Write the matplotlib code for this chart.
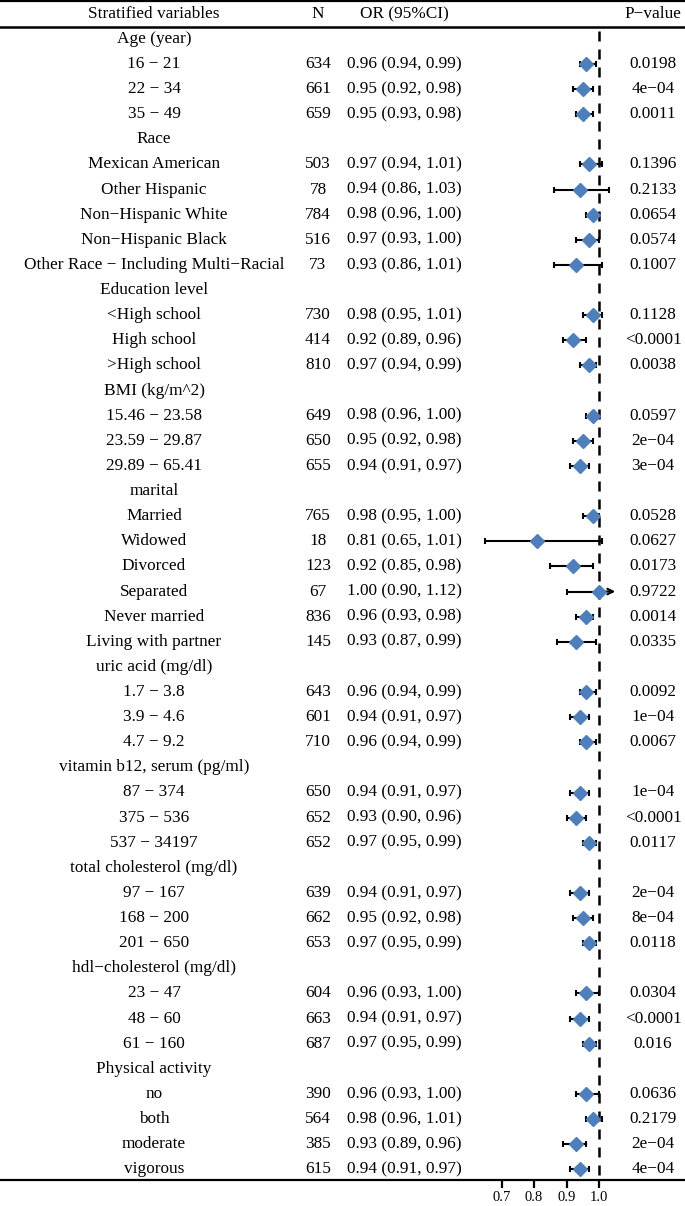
import numpy as np
import matplotlib.pyplot as plt
from matplotlib.transforms import blended_transform_factory

plt.rcParams['font.family'] = ['Liberation Serif', 'DejaVu Serif']

# rows of the table; group headers have None for the numbers
labels = ["Age (year)", "16 − 21", "22 − 34", "35 − 49",
          "Race", "Mexican American", "Other Hispanic", "Non−Hispanic White",
          "Non−Hispanic Black", "Other Race − Including Multi−Racial",
          "Education level", "<High school", "High school", ">High school",
          "BMI (kg/m^2)", "15.46 − 23.58", "23.59 − 29.87", "29.89 − 65.41",
          "marital", "Married", "Widowed", "Divorced", "Separated",
          "Never married", "Living with partner",
          "uric acid (mg/dl)", "1.7 − 3.8", "3.9 − 4.6", "4.7 − 9.2",
          "vitamin b12, serum (pg/ml)", "87 − 374", "375 − 536", "537 − 34197",
          "total cholesterol (mg/dl)", "97 − 167", "168 − 200", "201 − 650",
          "hdl−cholesterol (mg/dl)", "23 − 47", "48 − 60", "61 − 160",
          "Physical activity", "no", "both", "moderate", "vigorous"]
n = [None, 634, 661, 659,
     None, 503, 78, 784, 516, 73,
     None, 730, 414, 810,
     None, 649, 650, 655,
     None, 765, 18, 123, 67, 836, 145,
     None, 643, 601, 710,
     None, 650, 652, 652,
     None, 639, 662, 653,
     None, 604, 663, 687,
     None, 390, 564, 385, 615]
odds = [None, 0.96, 0.95, 0.95,
        None, 0.97, 0.94, 0.98, 0.97, 0.93,
        None, 0.98, 0.92, 0.97,
        None, 0.98, 0.95, 0.94,
        None, 0.98, 0.81, 0.92, 1.00, 0.96, 0.93,
        None, 0.96, 0.94, 0.96,
        None, 0.94, 0.93, 0.97,
        None, 0.94, 0.95, 0.97,
        None, 0.96, 0.94, 0.97,
        None, 0.96, 0.98, 0.93, 0.94]
lower = [None, 0.94, 0.92, 0.93,
         None, 0.94, 0.86, 0.96, 0.93, 0.86,
         None, 0.95, 0.89, 0.94,
         None, 0.96, 0.92, 0.91,
         None, 0.95, 0.65, 0.85, 0.90, 0.93, 0.87,
         None, 0.94, 0.91, 0.94,
         None, 0.91, 0.90, 0.95,
         None, 0.91, 0.92, 0.95,
         None, 0.93, 0.91, 0.95,
         None, 0.93, 0.96, 0.89, 0.91]
upper = [None, 0.99, 0.98, 0.98,
         None, 1.01, 1.03, 1.00, 1.00, 1.01,
         None, 1.01, 0.96, 0.99,
         None, 1.00, 0.98, 0.97,
         None, 1.00, 1.01, 0.98, 1.12, 0.98, 0.99,
         None, 0.99, 0.97, 0.99,
         None, 0.97, 0.96, 0.99,
         None, 0.97, 0.98, 0.99,
         None, 1.00, 0.97, 0.99,
         None, 1.00, 1.01, 0.96, 0.97]
pvals = [None, "0.0198", "4e−04", "0.0011",
         None, "0.1396", "0.2133", "0.0654", "0.0574", "0.1007",
         None, "0.1128", "<0.0001", "0.0038",
         None, "0.0597", "2e−04", "3e−04",
         None, "0.0528", "0.0627", "0.0173", "0.9722", "0.0014", "0.0335",
         None, "0.0092", "1e−04", "0.0067",
         None, "1e−04", "<0.0001", "0.0117",
         None, "2e−04", "8e−04", "0.0118",
         None, "0.0304", "<0.0001", "0.016",
         None, "0.0636", "0.2179", "2e−04", "4e−04"]
xticks = [0.7, 0.8, 0.9, 1.0]
clip_hi = 1.05

W, H = 685, 1206
fig = plt.figure(figsize=(W / 100, H / 100), dpi=100)
top_px, bottom_px = 1, 1180
ax = fig.add_axes([0, (H - bottom_px) / H, 1, (bottom_px - top_px) / H])

# x: 1.0 at pixel 599, 0.1 per 32.5 px
scale = 325.0
ax.set_xlim(1 - 599 / scale, 1 + (W - 599) / scale)
row0, step = 38.9, 25.12
ax.set_ylim((bottom_px - row0) / step, (top_px - row0) / step)

def row_of(px):
    return (px - row0) / step

for s in ['left', 'right']:
    ax.spines[s].set_visible(False)
ax.spines['top'].set_linewidth(1.6)
ax.spines['bottom'].set_linewidth(1.6)
ax.set_yticks([])
ax.set_xticks(xticks)
ax.set_xticklabels([f"{t:.1f}" for t in xticks], fontsize=10.5)
ax.tick_params(axis='x', direction='out', length=6, width=1.6, pad=2)

tr = blended_transform_factory(ax.transAxes, ax.transData)
col_lab, col_n, col_or, col_p = 154 / W, 318 / W, 404 / W, 653 / W
fs = 12.4

for x, t in [(col_lab, "Stratified variables"), (col_n, "N"),
             (col_or, "OR (95%CI)"), (col_p, "P−value")]:
    ax.text(x, row_of(14.5), t, transform=tr, ha='center', va='center', fontsize=fs)
ax.axhline(row_of(27), color='black', lw=1.8)

ax.vlines(1.0, row_of(31), row_of(bottom_px), colors='black',
          linestyles=(0, (4, 3.2)), lw=1.8, zorder=1)

for i, lab in enumerate(labels):
    ax.text(col_lab, i, lab, transform=tr, ha='center', va='center', fontsize=fs)
    if n[i] is None:
        continue
    ax.text(col_n, i, str(n[i]), transform=tr, ha='center', va='center', fontsize=fs)
    ax.text(col_or, i, f"{odds[i]:.2f} ({lower[i]:.2f}, {upper[i]:.2f})",
            transform=tr, ha='center', va='center', fontsize=fs)
    ax.text(col_p, i, pvals[i], transform=tr, ha='center', va='center', fontsize=fs)
    if upper[i] > clip_hi:
        ax.errorbar([odds[i]], [i], xerr=[[odds[i] - lower[i]], [0]],
                    fmt='none', ecolor='black', elinewidth=1.5, capsize=2.5,
                    capthick=1.5, zorder=2)
        ax.annotate("", xy=(clip_hi, i), xytext=(odds[i], i),
                    arrowprops=dict(arrowstyle='->', color='black', lw=1.5,
                                    shrinkA=0, shrinkB=0), zorder=2)
    else:
        ax.errorbar([odds[i]], [i], xerr=[[odds[i] - lower[i]], [upper[i] - odds[i]]],
                    fmt='none', ecolor='black', elinewidth=1.5, capsize=2.5,
                    capthick=1.5, zorder=2)
    ax.plot(odds[i], i, marker='D', ms=7, color='#4F7FBA', zorder=3)

fig.savefig("out.png", dpi=100)
